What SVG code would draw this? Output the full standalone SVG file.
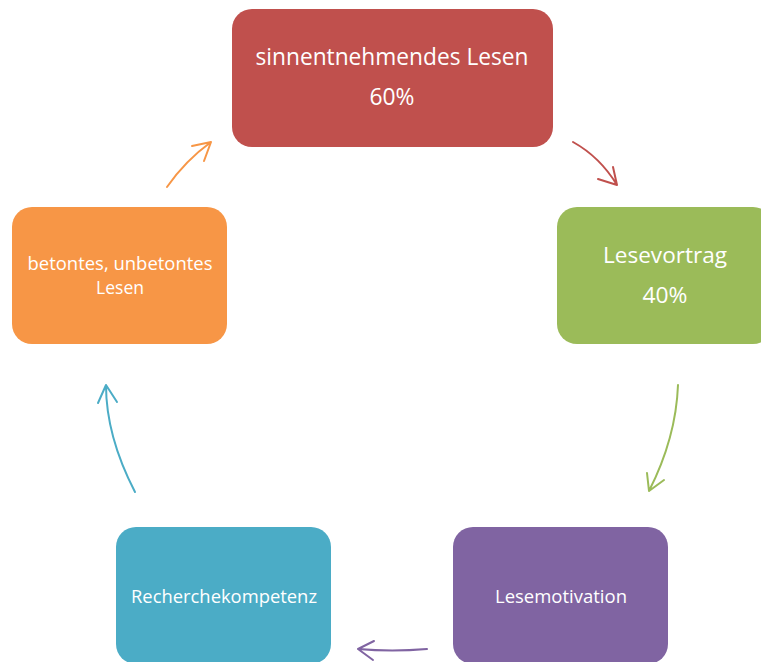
<svg xmlns="http://www.w3.org/2000/svg" width="761" height="662" viewBox="0 0 761 662">
<style>
.lbl{font-family:"Open Sans","Noto Sans","Liberation Sans",sans-serif;fill:#fff;text-anchor:middle}
.c{fill:none;stroke-width:2;stroke-linecap:round;stroke-linejoin:round}
</style>
<rect width="761" height="662" fill="#fff"/>
<g id="node-sinn">
<rect x="232" y="9" width="321" height="138" rx="20" fill="#c0504d"/>
<text class="lbl" x="392" y="65" font-size="23" textLength="273" lengthAdjust="spacingAndGlyphs">sinnentnehmendes Lesen</text>
<text class="lbl" x="392" y="105" font-size="23" textLength="45" lengthAdjust="spacingAndGlyphs">60%</text>
</g>
<g id="node-vortrag">
<rect x="557" y="207" width="216" height="137" rx="20" fill="#9bbb59"/>
<text class="lbl" x="665" y="263" font-size="21" textLength="124" lengthAdjust="spacingAndGlyphs">Lesevortrag</text>
<text class="lbl" x="665" y="303" font-size="21" textLength="45" lengthAdjust="spacingAndGlyphs">40%</text>
</g>
<g id="node-motivation">
<rect x="453" y="527" width="215" height="137" rx="20" fill="#8064a2"/>
<text class="lbl" x="561" y="603" font-size="18" textLength="132" lengthAdjust="spacingAndGlyphs">Lesemotivation</text>
</g>
<g id="node-recherche">
<rect x="116" y="527" width="215" height="137" rx="20" fill="#4bacc6"/>
<text class="lbl" x="224" y="603" font-size="18" textLength="186" lengthAdjust="spacingAndGlyphs">Recherchekompetenz</text>
</g>
<g id="node-betont">
<rect x="12" y="207" width="215" height="137" rx="20" fill="#f79646"/>
<text class="lbl" x="120" y="270" font-size="18" textLength="185" lengthAdjust="spacingAndGlyphs">betontes, unbetontes</text>
<text class="lbl" x="120" y="294" font-size="18" textLength="48" lengthAdjust="spacingAndGlyphs">Lesen</text>
</g>
<g id="connectors">
<path class="c" stroke="#c0504d" d="M573,142 Q600,157 617,185 M598,179 L617,185 L613,167"/>
<path class="c" stroke="#9bbb59" d="M678,385 Q676,438 649,491 M647,473 L649,491 L664,480"/>
<path class="c" stroke="#8064a2" d="M427,649 Q392,652 358,649 M374,641 L358,649 L373,660"/>
<path class="c" stroke="#4bacc6" d="M135,492 Q106,436 106,385 M98,403 L106,385 L117,402"/>
<path class="c" stroke="#f79646" d="M167,187 Q185,161 211,142 M192,146 L211,142 L204,161"/>
</g>
</svg>
